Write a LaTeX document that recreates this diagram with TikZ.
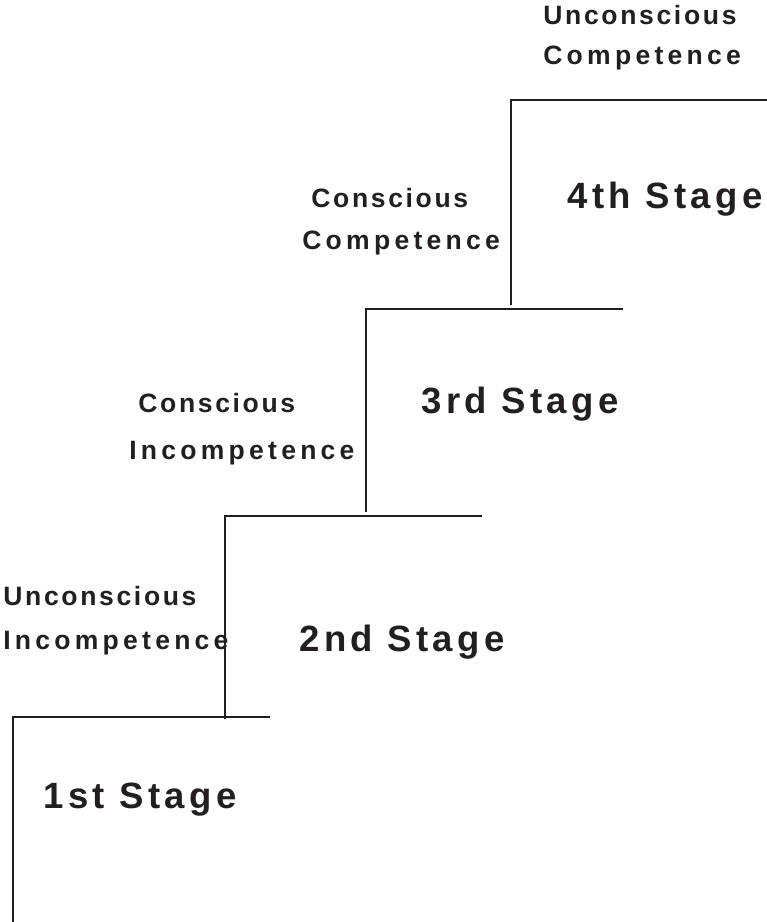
\documentclass[tikz,border=0pt]{standalone}
\usepackage{fontspec}
\usepackage{tikz}
\usetikzlibrary{positioning}

\newfontfamily\levelfont[LetterSpace=10]{Liberation Sans}
\newfontfamily\widelevelfont[LetterSpace=16]{Liberation Sans}
\newfontfamily\stagefont[LetterSpace=12]{Liberation Sans}
\definecolor{ink}{HTML}{231F20}

\begin{document}
\begin{tikzpicture}[
    stair/.style={draw=ink, line width=1.3pt},
    txt/.style={anchor=base west, inner sep=0pt, text=ink},
    level/.style={txt, font=\levelfont\bfseries\fontsize{15.1}{18}\selectfont},
    widelevel/.style={txt, font=\widelevelfont\bfseries\fontsize{15.1}{18}\selectfont},
    stage/.style={txt, font=\stagefont\bfseries\fontsize{20.8}{24}\selectfont}
]
    \useasboundingbox (0,0) rectangle (15.34,18.44);

    % Stufe 1
    \coordinate (a0) at (0.26, 0);
    \coordinate (a1) at (0.26, 4.10);
    \coordinate (a2) at (5.40, 4.10);
    \draw[stair] (a0) -- (a1) -- (a2);
    \node[stage] (s1) at (0.86, 2.26) {1st Stage};

    % Stufe 2
    \coordinate (b0) at (4.50, 4.06);
    \coordinate (b1) at (4.50, 8.12);
    \coordinate (b2) at (9.64, 8.12);
    \draw[stair] (b0) -- (b1) -- (b2);
    \node[stage] (s2) at (5.98, 5.40) {2nd Stage};
    \node[level] (ui1) at (0.06, 6.32) {Unconscious};
    \node[widelevel] (ui2) at (0.06, 5.44) {Incompetence};

    % Stufe 3
    \coordinate (c0) at (7.32, 8.20);
    \coordinate (c1) at (7.32, 12.26);
    \coordinate (c2) at (12.46, 12.26);
    \draw[stair] (c0) -- (c1) -- (c2);
    \node[stage] (s3) at (8.42, 10.16) {3rd Stage};
    \node[level] (ci1) at (2.76, 10.18) {Conscious};
    \node[widelevel] (ci2) at (2.58, 9.24) {Incompetence};

    % Stufe 4
    \coordinate (d0) at (10.22, 12.34);
    \coordinate (d1) at (10.22, 16.44);
    \coordinate (d2) at (15.34, 16.44);
    \draw[stair] (d0) -- (d1) -- (d2);
    \node[stage] (s4) at (11.34, 14.26) {4th Stage};
    \node[level] (cc1) at (6.22, 14.28) {Conscious};
    \node[widelevel] (cc2) at (6.04, 13.44) {Competence};

    % oben
    \node[level] (uc1) at (10.86, 17.94) {Unconscious};
    \node[widelevel] (uc2) at (10.86, 17.14) {Competence};
\end{tikzpicture}
\end{document}
